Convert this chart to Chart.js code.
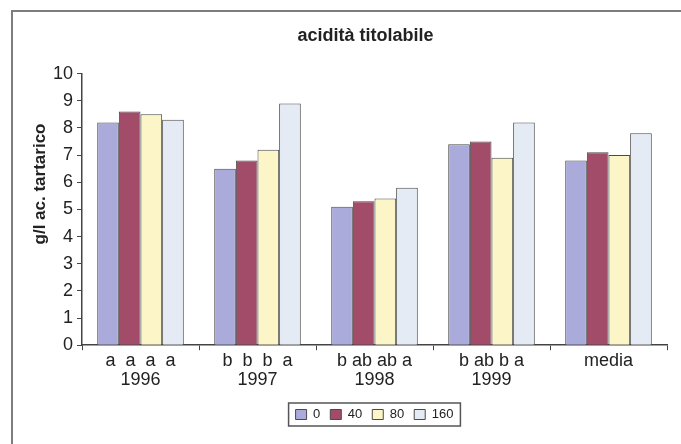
<html>
<head>
    <title>acidità titolabile</title>
    <script src="https://cdn.jsdelivr.net/npm/chart.js@4.4.1/dist/chart.umd.min.js"></script>
    <style>
        body { margin: 0; background: #fff; }
    </style>
</head>
<body>
<canvas id="acidChart" width="681" height="444"></canvas>

<script>
  // data
  const categories = ['1996', '1997', '1998', '1999', 'media']
  const letters = ['a  a  a  a', 'b  b  b  a', 'b ab ab a', 'b ab b a', '']
  const doses = ['0', '40', '80', '160']
  const dose0 = [8.2, 6.5, 5.1, 7.4, 6.8]
  const dose40 = [8.6, 6.8, 5.3, 7.5, 7.1]
  const dose80 = [8.5, 7.2, 5.4, 6.9, 7.0]
  const dose160 = [8.3, 8.9, 5.8, 8.2, 7.8]
  const yTicks = [0, 1, 2, 3, 4, 5, 6, 7, 8, 9, 10]

  const fontFamily = '"Liberation Sans", Arial, sans-serif'
  const colors = ['#aaaadb', '#a34c69', '#fbf5c8', '#e4ebf4']
  const values = [dose0, dose40, dose80, dose160]

  let labels = categories.map(function (c, i) {
    return letters[i] ? [letters[i], c] : [c]
  })

  let datasets = doses.map(function (d, i) {
    return {
      label: d,
      data: values[i],
      backgroundColor: colors[i],
      borderColor: '#4a4a4a',
      borderWidth: 1,
      categoryPercentage: 0.74,
      barPercentage: 1.0
    }
  })

  // frame, y title and legend box
  const decor = {
    id: 'decor',
    afterLayout: function (chart) {
      let area = chart.chartArea
      chart.legend.left = area.left
      chart.legend.right = area.right
      chart.titleBlock.left = area.left - 18
      chart.titleBlock.right = area.right
    },
    beforeDraw: function (chart) {
      let ctx = chart.ctx
      ctx.save()
      ctx.fillStyle = '#fff'
      ctx.fillRect(0, 0, chart.width, chart.height)
      ctx.strokeStyle = '#7d7d7d'
      ctx.lineWidth = 2
      ctx.beginPath()
      ctx.moveTo(12, chart.height)
      ctx.lineTo(12, 11)
      ctx.lineTo(chart.width, 11)
      ctx.stroke()
      ctx.restore()
    },
    afterDraw: function (chart) {
      let ctx = chart.ctx
      ctx.save()
      // y axis title
      ctx.translate(40, 184)
      ctx.rotate(-Math.PI / 2)
      ctx.font = 'bold 17px ' + fontFamily
      ctx.fillStyle = '#222'
      ctx.textAlign = 'center'
      ctx.textBaseline = 'middle'
      ctx.fillText('g/l ac. tartarico', 0, 0)
      ctx.restore()

      // box round the legend
      let boxes = chart.legend.legendHitBoxes
      if (boxes.length) {
        let l = boxes[0].left - 7
        let last = boxes[boxes.length - 1]
        let r = last.left + last.width + 7
        let t = boxes[0].top - 5
        let b = boxes[0].top + boxes[0].height + 5
        ctx.save()
        ctx.strokeStyle = '#555'
        ctx.lineWidth = 1.5
        ctx.strokeRect(l, t, r - l, b - t)
        ctx.restore()
      }
    }
  }

  new Chart(document.getElementById('acidChart'), {
    type: 'bar',
    data: { labels: labels, datasets: datasets },
    plugins: [decor],
    options: {
      responsive: false,
      animation: false,
      layout: { padding: { top: 16, right: 14, bottom: 13, left: 0 } },
      plugins: {
        title: {
          display: true,
          text: 'acidità titolabile',
          color: '#222',
          font: { family: fontFamily, size: 18, weight: 'bold' },
          padding: { top: 9, bottom: 27 }
        },
        legend: {
          position: 'bottom',
          labels: {
            color: '#222',
            font: { family: fontFamily, size: 13 },
            boxWidth: 11,
            boxHeight: 10,
            padding: 10
          }
        },
        tooltip: { enabled: false }
      },
      scales: {
        x: {
          afterFit: function (scale) { scale.height += 8 },
          grid: { display: true, drawOnChartArea: false, drawTicks: true, tickLength: 5, color: '#444', offset: true },
          border: { display: true, color: '#444', width: 1.5 },
          ticks: {
            color: '#222',
            font: { family: fontFamily, size: 18, lineHeight: 1.05 },
            padding: 1,
            maxRotation: 0,
            autoSkip: false
          }
        },
        y: {
          min: yTicks[0],
          max: yTicks[yTicks.length - 1],
          afterFit: function (scale) { scale.width = 82 },
          afterBuildTicks: function (scale) {
            scale.ticks = yTicks.map(function (v) { return { value: v } })
          },
          grid: { display: true, drawOnChartArea: false, drawTicks: true, tickLength: 5, color: '#444' },
          border: { display: true, color: '#444', width: 1.5 },
          ticks: {
            color: '#222',
            font: { family: fontFamily, size: 18 },
            padding: 4
          }
        }
      }
    }
  })
</script>
</body>
</html>
